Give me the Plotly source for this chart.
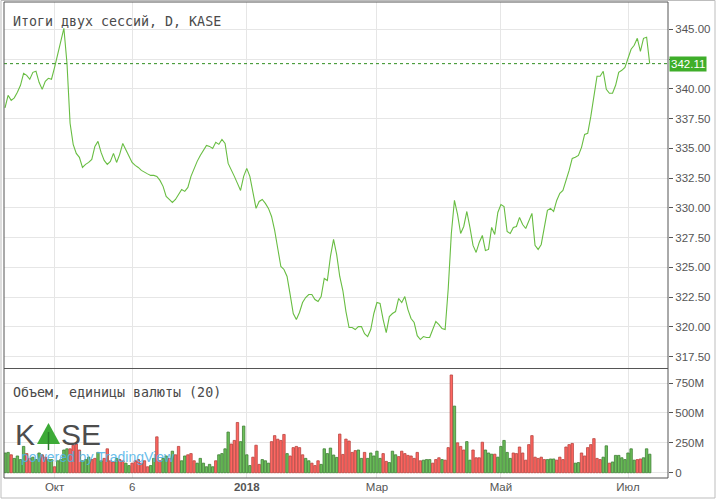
import plotly.graph_objects as go

# ---- data ----
price = [338.4, 339.45, 339.03, 339.24, 339.70, 340.29, 341.30, 341.13, 340.80, 341.38,
         341.47, 340.54, 339.95, 340.63, 340.88, 340.80, 341.80, 342.90, 344.16, 345.08,
         342.14, 337.10, 335.33, 334.57, 334.24, 333.39, 333.65, 333.81, 334.07, 335.16,
         335.58, 334.65, 333.98, 333.65, 333.90, 334.57, 333.81, 334.49, 335.41, 334.90,
         334.32, 333.81, 333.56, 333.39, 333.14, 332.97, 332.85, 332.72, 332.72, 332.64,
         332.30, 331.80, 330.96, 330.70, 330.45, 330.70, 331.12, 331.54, 331.38, 331.71,
         332.64, 333.31, 333.90, 334.40, 334.82, 335.24, 335.16, 334.99, 335.50, 335.33,
         335.75, 335.41, 333.73, 333.23, 332.64, 332.05, 331.46, 332.64, 333.31, 332.64,
         331.29, 329.95, 330.53, 330.70, 330.37, 329.95, 329.27, 328.10, 326.58, 325.07,
         324.82, 324.23, 322.71, 321.12, 320.61, 321.20, 322.04, 322.46, 322.71, 322.71,
         322.29, 322.12, 322.54, 324.06, 323.89, 325.91, 327.34, 326.08, 324.23, 323.05,
         321.28, 319.94, 319.94, 319.77, 320.02, 320.02, 319.43, 319.18, 319.77, 321.12,
         322.04, 321.96, 320.61, 319.52, 320.86, 321.12, 321.28, 322.38, 322.04, 322.54,
         321.45, 320.70, 320.36, 319.26, 318.93, 319.18, 319.10, 319.10, 319.77, 320.44,
         320.19, 319.85, 319.77, 323.22, 327.84, 330.62, 329.44, 327.84, 328.43, 329.69,
         328.35, 326.84, 326.25, 327.09, 327.68, 326.41, 326.50, 328.35, 327.76, 329.61,
         330.28, 330.11, 328.01, 327.84, 328.35, 328.43, 329.19, 328.60, 328.26, 328.85,
         329.53, 326.84, 326.50, 326.92, 328.35, 329.78, 329.95, 329.69, 330.62, 331.21,
         331.46, 332.22, 333.14, 334.15, 334.24, 334.40, 335.08, 336.17, 336.25, 337.68,
         339.37, 341.05, 341.05, 341.47, 339.95, 339.62, 339.62, 340.29, 341.38, 341.55,
         341.80, 342.56, 343.32, 343.65, 344.24, 343.15, 344.24, 344.33, 342.11]

volume_m = [165, 170, 150, 120, 140, 110, 220, 160, 120, 130,
            110, 165, 150, 130, 110, 110, 50, 100, 110, 190,
            200, 200, 230, 240, 190, 100, 110, 130, 110, 120,
            170, 100, 120, 200, 100, 90, 120, 110, 100, 80,
            60, 80, 100, 110, 80, 100, 50, 60, 120, 300,
            100, 120, 140, 120, 180, 150, 220, 100, 140, 150,
            160, 100, 80, 120, 80, 50, 70, 50, 100, 150,
            160, 200, 340, 240, 270, 420, 260, 390, 150, 60,
            130, 230, 70, 110, 100, 80, 260, 310, 280, 270,
            320, 160, 140, 210, 220, 210, 150, 120, 100, 80,
            60, 100, 70, 200, 160, 206, 148, 128, 323, 153,
            281, 265, 170, 185, 190, 120, 170, 120, 165, 140,
            180, 120, 160, 95, 85, 180, 150, 135, 180, 160,
            145, 140, 120, 170, 100, 105, 110, 110, 80, 110,
            125, 110, 105, 210, 817, 557, 250, 220, 190, 260,
            105, 190, 125, 125, 255, 190, 165, 155, 155, 130,
            220, 270, 170, 120, 165, 160, 215, 165, 105, 235,
            310, 130, 120, 130, 110, 110, 115, 115, 105, 130,
            110, 215, 235, 245, 80, 85, 165, 140, 210, 235,
            285, 120, 110, 130, 225, 80, 90, 145, 145, 125,
            110, 165, 200, 105, 110, 115, 125, 200, 155]

volume_dir = ("ggrgggg" "rrgg" "grrggrggg" "g"
              "rrrrgggrrg" "grrrrgrrgg" "rrrrrrggrr" "ggrgrrgg" "rr"
              "rggggggrgg" "ggrrrggggr" "rrggg" "rrrrr" "grrrrrggrr"
              "rgggg" "ggrrrrrrgg" "rgggggrrgg" "grrrrrrrrg" "ggrrrgrrrg"
              "rrrggrrrrg" "ggrgggggrr" "rrrrrrrrrg" "gg" "rrrrrrggrr"
              "rrrrrggrggg" "gggggrrggg" "ggggggrggg" "gggggrggggg" "gggrrrrr")

tick_idx = [16, 41, 78, 120, 160, 201]
tick_txt = ["Окт", "6", "<b>2018</b>", "Мар", "Май", "Июл"]
price_ticks = [317.5, 320, 322.5, 325, 327.5, 330, 332.5, 335, 337.5, 340, 342.5, 345]
price_tick_txt = ["317.50", "320.00", "322.50", "325.00", "327.50", "330.00", "332.50",
                  "335.00", "337.50", "340.00", "", "345.00"]
vol_ticks = [0, 250, 500, 750]
vol_tick_txt = ["0", "250M", "500M", "750M"]
last_price = 342.11

x = list(range(len(price)))
dirs = (volume_dir + "g" * len(volume_m))[:len(volume_m)]
fill = ["#6cc05a" if d == "g" else "#ff6661" for d in dirs]
edge = ["#3f7f35" if d == "g" else "#b8443f" for d in dirs]

fig = go.Figure()
fig.add_trace(go.Bar(x=x, y=volume_m, xaxis="x", yaxis="y2", width=0.78,
                     marker=dict(color=fill, line=dict(color=edge, width=0.8)),
                     hoverinfo="skip", showlegend=False))
fig.add_trace(go.Scatter(x=x, y=price, mode="lines", xaxis="x", yaxis="y",
                         line=dict(color="#68bd42", width=1.1), showlegend=False))

axfont = dict(family="Liberation Sans, Arial, sans-serif", size=11.5, color="#555555")
W, L, R, T, B = 720, 4, 52, 2, 25
pw, ph = W - L - R, 503 - T - B


def px(xp):
    return (xp - L) / pw


def py(yp):
    return (503 - B - yp) / ph


fig.update_layout(
    width=720, height=503,
    margin=dict(l=L, r=R, t=T, b=B),
    paper_bgcolor="white", plot_bgcolor="white",
    bargap=0.2,
    xaxis=dict(anchor="y2", range=[-0.32, 213.9], tickvals=tick_idx, ticktext=tick_txt,
               showgrid=True, gridcolor="#e6e6e6", gridwidth=1, zeroline=False,
               ticks="", tickfont=axfont, showline=False, fixedrange=True),
    yaxis=dict(domain=[py(368), 1], range=[316.54, 347.29], side="right",
               tickvals=price_ticks, ticktext=price_tick_txt, showgrid=True,
               gridcolor="#e6e6e6", zeroline=False, ticks="outside", ticklen=4,
               tickcolor="#555555", tickfont=axfont, showline=False),
    yaxis2=dict(domain=[0, py(369)], range=[-44, 867], side="right",
                tickvals=vol_ticks, ticktext=vol_tick_txt, showgrid=True,
                gridcolor="#e6e6e6", zeroline=False, ticks="outside", ticklen=4,
                tickcolor="#555555", tickfont=axfont, showline=False),
)

shapes = [
    dict(type="line", xref="paper", yref="y", x0=0, x1=1, y0=last_price, y1=last_price,
         line=dict(color="#2f8f1f", width=1, dash="dot")),
    dict(type="rect", xref="paper", yref="paper", x0=0, x1=1, y0=0, y1=1,
         line=dict(color="#555555", width=1)),
    dict(type="line", xref="paper", yref="paper", x0=0, x1=1, y0=py(368.5), y1=py(368.5),
         line=dict(color="#555555", width=1.2)),
    dict(type="rect", xref="paper", yref="paper", x0=px(1), x1=px(715), y0=py(498), y1=py(0.5),
         line=dict(color="#bdbdbd", width=1)),
    dict(type="path", xref="paper", yref="paper",
         path=f"M {px(37)},{py(444)} L {px(48.5)},{py(423)} L {px(60)},{py(444)} Z",
         fillcolor="#3daa37", line=dict(color="#3daa37", width=0)),
    dict(type="line", xref="paper", yref="paper", x0=px(48.5), x1=px(48.5),
         y0=py(450), y1=py(432), line=dict(color="#2a7d2a", width=1.5)),
]
fig.update_layout(shapes=shapes)

mono = "DejaVu Sans Mono, Liberation Mono, monospace"
ann = [
    dict(text="Итоги двух сессий, D, KASE", xref="paper", yref="paper",
         x=px(11), y=py(22), xanchor="left", yanchor="middle", showarrow=False,
         font=dict(family=mono, size=13.3, color="#4a4a4a")),
    dict(text="Объем, единицы валюты (20)", xref="paper", yref="paper",
         x=px(11), y=py(392), xanchor="left", yanchor="middle", showarrow=False,
         font=dict(family=mono, size=13.3, color="#4a4a4a")),
    dict(text=f"{last_price:.2f}", xref="paper", yref="y", x=1, y=last_price,
         xanchor="left", yanchor="middle", showarrow=False, bgcolor="#3fae2a",
         borderpad=1, xshift=1,
         font=dict(family="Liberation Sans, Arial, sans-serif", size=11.5, color="white")),
    dict(text="K", xref="paper", yref="paper", x=px(25), y=py(434), xanchor="center",
         yanchor="middle", showarrow=False,
         font=dict(family="Liberation Sans, Arial, sans-serif", size=30, color="#4d4d4d")),
    dict(text="SE", xref="paper", yref="paper", x=px(81), y=py(434), xanchor="center",
         yanchor="middle", showarrow=False,
         font=dict(family="Liberation Sans, Arial, sans-serif", size=30, color="#4d4d4d")),
    dict(text="powered by TradingView", xref="paper", yref="paper", x=px(19), y=py(457),
         xanchor="left", yanchor="middle", showarrow=False, opacity=0.85,
         font=dict(family="Liberation Sans, Arial, sans-serif", size=14, color="#4fb3e8")),
]
fig.update_layout(annotations=ann)

fig.write_html("out.html", config={"displayModeBar": False},
               post_script="document.body.style.margin='0';document.body.style.overflow='hidden';")
